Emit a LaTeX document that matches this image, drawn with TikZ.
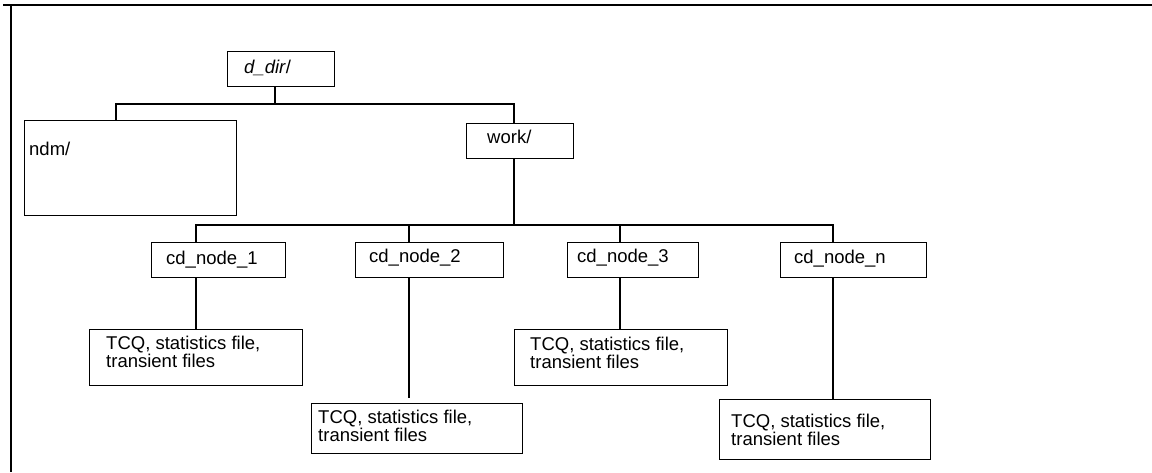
\documentclass[tikz,border=0pt]{standalone}
\usepackage{fontspec}
\setmainfont{Liberation Sans}
\newcommand{\boxfont}{\fontsize{18.5}{18}\selectfont}
\tikzset{
  dirbox/.style={draw, line width=1.2pt, inner sep=0pt, anchor=north west},
  boxtext/.style={anchor=north west, inner sep=0pt, align=left, font=\boxfont},
  link/.style={line width=1.2pt}
}

\begin{document}
\begin{tikzpicture}[x=1pt, y=-1pt]
      \useasboundingbox (0,0) rectangle (1152,472);
      % frame lines
      \draw[link] (3,5) -- (1152,5);
      \draw[link] (11,5) -- (11,472);
      % top level
      \node[dirbox, minimum width=107pt, minimum height=35pt] (ddir) at (227,51) {};
      \node[boxtext] (ddirtext) at ([shift={(17,9)}]ddir.north west) {\textit{d\_dir}/};
      \node[dirbox, minimum width=212pt, minimum height=95pt] (ndm) at (24,120) {};
      \node[boxtext] (ndmtext) at ([shift={(5,22)}]ndm.north west) {ndm/};
      \node[dirbox, minimum width=107pt, minimum height=35pt] (work) at (466,123) {};
      \node[boxtext] (worktext) at ([shift={(21,7)}]work.north west) {work/};
      \coordinate (bara) at (275,104);
      \draw[link] (ddir.south -| bara) -- (bara);
      \draw[link] (ndm.north -| 116,0) |- (bara) -| (work.north -| 514,0);
      % node directories
      \node[dirbox, minimum width=134pt, minimum height=35pt] (cd1) at (151,242) {};
      \node[boxtext] (cd1text) at ([shift={(15,9)}]cd1.north west) {cd\_node\_1};
      \node[dirbox, minimum width=148pt, minimum height=35pt] (cd2) at (355,242) {};
      \node[boxtext] (cd2text) at ([shift={(14,7)}]cd2.north west) {cd\_node\_2};
      \node[dirbox, minimum width=131pt, minimum height=35pt] (cd3) at (567,242) {};
      \node[boxtext] (cd3text) at ([shift={(10,7)}]cd3.north west) {cd\_node\_3};
      \node[dirbox, minimum width=146pt, minimum height=35pt] (cdn) at (780,242) {};
      \node[boxtext] (cdntext) at ([shift={(14,8)}]cdn.north west) {cd\_node\_n};
      \coordinate (barb) at (514,225);
      \draw[link] (work.south -| barb) -- (barb);
      \draw[link] (cd1.north -| 196,0) |- (barb) -| (cdn.north -| 833,0);
      \draw[link] (cd2.north -| 409,0) -- (barb -| 409,0);
      \draw[link] (cd3.north -| 620,0) -- (barb -| 620,0);
      % file boxes
      \node[dirbox, minimum width=213pt, minimum height=56pt] (tcq1) at (89,329) {};
      \node[boxtext] (tcq1text) at ([shift={(17,7)}]tcq1.north west) {TCQ, statistics file,\\transient files};
      \node[dirbox, minimum width=211pt, minimum height=50pt] (tcq2) at (311,403) {};
      \node[boxtext] (tcq2text) at ([shift={(7,7)}]tcq2.north west) {TCQ, statistics file,\\transient files};
      \node[dirbox, minimum width=213pt, minimum height=56pt] (tcq3) at (514,329) {};
      \node[boxtext] (tcq3text) at ([shift={(16,8)}]tcq3.north west) {TCQ, statistics file,\\transient files};
      \node[dirbox, minimum width=211pt, minimum height=60pt] (tcqn) at (719,399) {};
      \node[boxtext] (tcqntext) at ([shift={(12,15)}]tcqn.north west) {TCQ, statistics file,\\transient files};
      \draw[link] (cd1.south -| 196,0) -- (tcq1.north -| 196,0);
      \draw[link, shorten >=5pt] (cd2.south -| 409,0) -- (tcq2.north -| 409,0);
      \draw[link] (cd3.south -| 620,0) -- (tcq3.north -| 620,0);
      \draw[link] (cdn.south -| 833,0) -- (tcqn.north -| 833,0);
\end{tikzpicture}
\end{document}
